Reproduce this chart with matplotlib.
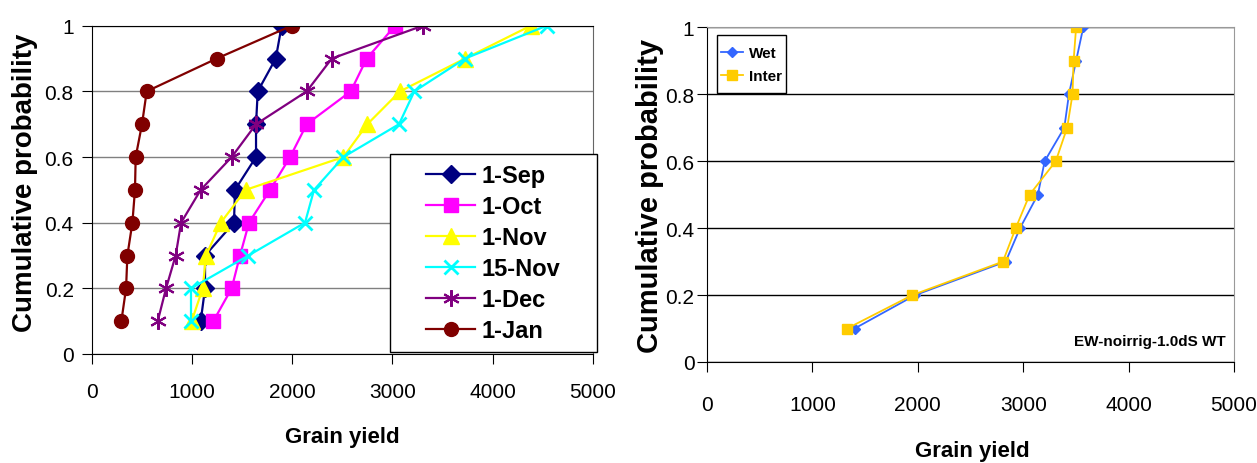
import matplotlib.pyplot as plt
from matplotlib.patches import Rectangle
from matplotlib.ticker import FuncFormatter

# -------------------------
# Data
# -------------------------
prob = [0.1, 0.2, 0.3, 0.4, 0.5, 0.6, 0.7, 0.8, 0.9, 1.0]

sowing_dates = ["1-Sep", "1-Oct", "1-Nov", "15-Nov", "1-Dec", "1-Jan"]
yield_sep = [1088, 1131, 1131, 1420, 1430, 1640, 1640, 1657, 1837, 1896]
yield_oct = [1214, 1397, 1480, 1570, 1780, 1980, 2146, 2585, 2745, 3028]
yield_nov = [998, 1108, 1141, 1288, 1537, 2512, 2751, 3077, 3726, 4382]
yield_15nov = [991, 991, 1564, 2129, 2219, 2512, 3067, 3220, 3726, 4541]
yield_dec = [659, 742, 838, 892, 1088, 1397, 1640, 2146, 2396, 3304]
yield_jan = [296, 343, 356, 406, 432, 439, 502, 549, 1248, 1996]

yield_wet = [1400, 1976, 2834, 2970, 3139, 3204, 3390, 3434, 3502, 3570]
yield_inter = [1329, 1949, 2807, 2929, 3061, 3309, 3417, 3468, 3478, 3502]

x_ticks = [0, 1000, 2000, 3000, 4000, 5000]
y_ticks = [0, 0.2, 0.4, 0.6, 0.8, 1.0]

# -------------------------
# Plot
# -------------------------
plt.rcParams['font.family'] = ['Liberation Sans', 'DejaVu Sans']

W, H = 1257, 464
fig = plt.figure(figsize=(W / 100, H / 100), dpi=100)


def px_axes(x0, y0, x1, y1):
    return fig.add_axes([x0 / W, 1 - y1 / H, (x1 - x0) / W, (y1 - y0) / H])


def px_box(x0, y0, x1, y1):
    r = Rectangle((x0 / W, 1 - y1 / H), (x1 - x0) / W, (y1 - y0) / H,
                  transform=fig.transFigure, facecolor="white",
                  edgecolor="black", lw=1, zorder=1)
    fig.add_artist(r)


fmt = FuncFormatter(lambda v, p: f"{v:g}")

# ---- left panel ----
ax1 = px_axes(91.7, 26.7, 592.7, 355)
styles = [
    dict(color="#000080", marker="D", ms=9),
    dict(color="#FF00FF", marker="s", ms=10),
    dict(color="#FFFF00", marker="^", ms=11),
    dict(color="#00FFFF", marker="x", ms=10, mew=2),
    dict(color="#800080", marker=(6, 2, 0), ms=12, mew=1.5),
    dict(color="#800000", marker="o", ms=10),
]
series = [yield_sep, yield_oct, yield_nov, yield_15nov, yield_dec, yield_jan]
for name, ys, st in zip(sowing_dates, series, styles):
    ax1.plot(ys, prob, lw=1.6, label=name, **st)

ax1.set_xlim(0, 5000)
ax1.set_ylim(0, 1)
ax1.set_xticks(x_ticks)
ax1.set_yticks(y_ticks)
ax1.yaxis.set_major_formatter(fmt)
ax1.tick_params(labelsize=15, length=7, direction="out", color="black")
ax1.tick_params(axis="x", pad=13)
ax1.tick_params(axis="y", pad=6)
ax1.yaxis.grid(True, color="#808080", lw=1)
ax1.set_axisbelow(True)
ax1.spines["top"].set_color("black")
ax1.spines["right"].set_color("#666666")

px_box(390, 155, 597, 353)
leg1 = fig.legend(loc="center", bbox_to_anchor=(493.5 / W, 1 - 254 / H),
                  prop=dict(size=17, weight="bold"), frameon=False,
                  handlelength=2.05, handletextpad=0.3,
                  labelspacing=0.34, borderpad=0, borderaxespad=0)
leg1.set_zorder(5)

fig.text(25 / W, 1 - 183 / H, "Cumulative probability", rotation=90,
         ha="center", va="center", fontsize=20, fontweight="bold")
fig.text(342 / W, 1 - 438 / H, "Grain yield", ha="center", va="center",
         fontsize=16, fontweight="bold")

# ---- right panel ----
ax2 = px_axes(707, 28.3, 1234, 363)
ax2.plot(yield_wet, prob, color="#3366FF", marker="D", ms=5, lw=1.3, label="Wet")
ax2.plot(yield_inter, prob, color="#FFCC00", marker="s", ms=7, lw=1.3, label="Inter")

ax2.set_xlim(0, 5000)
ax2.set_ylim(0, 1)
ax2.set_xticks(x_ticks)
ax2.set_yticks(y_ticks)
ax2.yaxis.set_major_formatter(fmt)
ax2.tick_params(labelsize=15, length=7, direction="out", color="black")
ax2.tick_params(axis="x", pad=17)
ax2.tick_params(axis="y", pad=2)
ax2.yaxis.grid(True, color="black", lw=1)
ax2.set_axisbelow(True)
ax2.spines["top"].set_color("#999999")
ax2.spines["right"].set_color("#999999")

px_box(716.8, 35.7, 786.4, 94)
leg2 = fig.legend(handles=ax2.get_lines(), loc="center",
                  bbox_to_anchor=(751.6 / W, 1 - 65.5 / H),
                  prop=dict(size=11, weight="bold"), frameon=False,
                  handlelength=1.45, handletextpad=0.4, labelspacing=0.6,
                  borderpad=0, borderaxespad=0)
leg2.set_zorder(5)

ax2.text(0.985, 0.063, "EW-noirrig-1.0dS WT", transform=ax2.transAxes,
         ha="right", va="center", fontsize=11, fontweight="bold")

fig.text(650 / W, 1 - 196 / H, "Cumulative probability", rotation=90,
         ha="center", va="center", fontsize=21, fontweight="bold")
fig.text(972 / W, 1 - 452 / H, "Grain yield", ha="center", va="center",
         fontsize=16, fontweight="bold")

fig.savefig("out.png", dpi=100)
